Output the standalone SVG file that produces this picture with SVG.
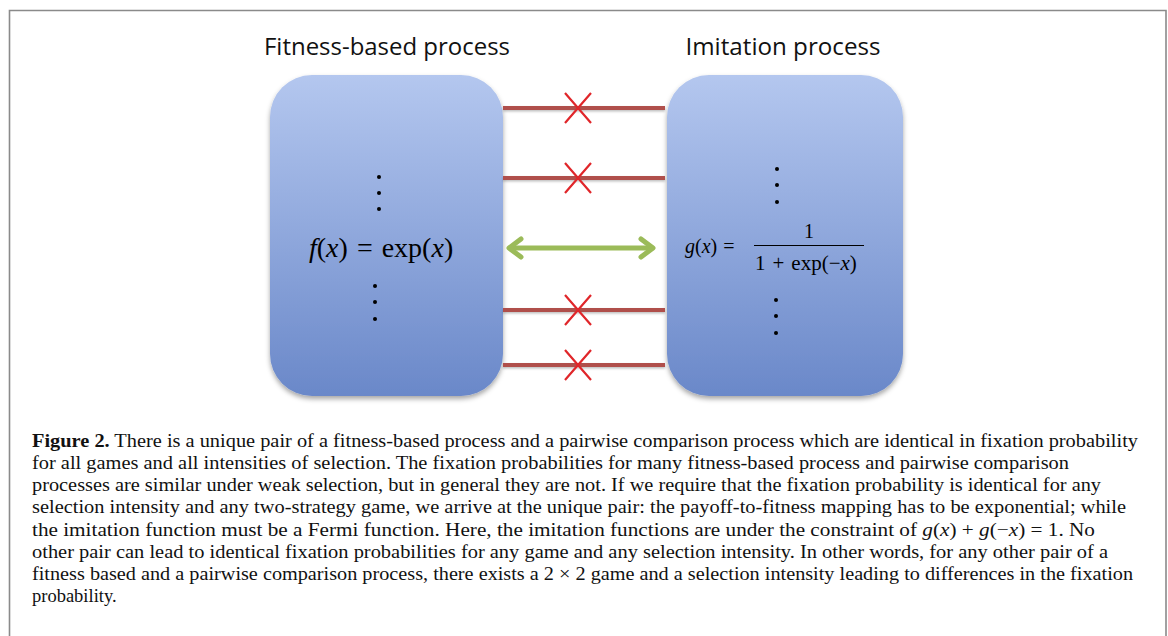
<svg xmlns="http://www.w3.org/2000/svg" width="1168" height="636" viewBox="0 0 1168 636">
<style>
.title{font-family:"Open Sans","Liberation Sans",sans-serif;font-size:23px;fill:#111}
.cap{font-family:"Liberation Serif",serif;font-size:18.5px;fill:#111}
.math{font-family:"Liberation Serif","DejaVu Serif",serif;fill:#000}
.it{font-style:italic}
.bar{stroke:#b0504c;stroke-width:4;fill:none}
.cross{stroke:#e0262a;stroke-width:2.2;fill:none}
.ok{stroke:#9bbb59;stroke-width:5;fill:none;stroke-linecap:round;stroke-linejoin:round}
.dot{fill:#000}
</style>
<defs>
<linearGradient id="g" x1="0" y1="0" x2="0" y2="1">
<stop offset="0" stop-color="#b4c7ef"/>
<stop offset="1" stop-color="#6a88c9"/>
</linearGradient>
<filter id="sh" x="-10%" y="-10%" width="120%" height="125%">
<feDropShadow dx="0" dy="3" stdDeviation="2.5" flood-color="#000" flood-opacity="0.35"/>
</filter>
<filter id="sh2" x="-5%" y="-100%" width="110%" height="300%">
<feDropShadow dx="0" dy="1.5" stdDeviation="1" flood-color="#000" flood-opacity="0.25"/>
</filter>
</defs>
<rect width="1168" height="636" fill="#fff"/>
<path d="M9.5 640 V10.5 H1166 V640" fill="none" stroke="#8a8a8a" stroke-width="1.6"/>

<g id="fitness">
<text class="title" x="387" y="55" text-anchor="middle" textLength="246" lengthAdjust="spacingAndGlyphs">Fitness-based process</text>
<rect x="270" y="75" width="233" height="321" rx="42" ry="42" fill="url(#g)" filter="url(#sh)"/>
<circle class="dot" cx="379" cy="177" r="2"/>
<circle class="dot" cx="379" cy="193" r="2"/>
<circle class="dot" cx="379" cy="209" r="2"/>
<text class="math" x="309" y="257" font-size="28"><tspan class="it">f</tspan>(<tspan class="it">x</tspan>)<tspan dx="9">=</tspan><tspan dx="9">exp(</tspan><tspan class="it">x</tspan>)</text>
<circle class="dot" cx="375" cy="286" r="2"/>
<circle class="dot" cx="375" cy="302" r="2"/>
<circle class="dot" cx="375" cy="319" r="2"/>
</g>

<g id="imitation">
<text class="title" x="783" y="55" text-anchor="middle" textLength="195" lengthAdjust="spacingAndGlyphs">Imitation process</text>
<rect x="667" y="75" width="236" height="321" rx="42" ry="42" fill="url(#g)" filter="url(#sh)"/>
<circle class="dot" cx="777" cy="169" r="2"/>
<circle class="dot" cx="777" cy="185" r="2"/>
<circle class="dot" cx="777" cy="202" r="2"/>
<text class="math" x="685" y="253" font-size="20"><tspan class="it">g</tspan>(<tspan class="it">x</tspan>)<tspan dx="6">=</tspan></text>
<text class="math" x="809" y="238" font-size="20" text-anchor="middle">1</text>
<line x1="754" y1="245.5" x2="864" y2="245.5" stroke="#000" stroke-width="1"/>
<text class="math" x="755" y="270" font-size="21">1<tspan dx="7">+</tspan><tspan dx="7">exp(−</tspan><tspan class="it">x</tspan>)</text>
<circle class="dot" cx="776" cy="300" r="2"/>
<circle class="dot" cx="776" cy="316" r="2"/>
<circle class="dot" cx="776" cy="333" r="2"/>
</g>

<g id="connectors">
<g filter="url(#sh2)">
<line class="bar" x1="503" y1="108" x2="665" y2="108"/>
<line class="bar" x1="503" y1="178" x2="665" y2="178"/>
<line class="bar" x1="503" y1="310" x2="665" y2="310"/>
<line class="bar" x1="503" y1="365" x2="665" y2="365"/>
</g>
<path class="cross" d="M565 93 L591 123 M591 93 L565 123"/>
<path class="cross" d="M565 163 L591 193 M591 163 L565 193"/>
<path class="cross" d="M565 295 L591 325 M591 295 L565 325"/>
<path class="cross" d="M565 350 L591 380 M591 350 L565 380"/>
<line class="ok" x1="510" y1="248" x2="652" y2="248"/>
<path class="ok" d="M521 239 L509 248 L521 257"/>
<path class="ok" d="M641 239 L653 248 L641 257"/>
</g>

<g id="caption">
<text class="cap" x="32" y="447" textLength="1106" lengthAdjust="spacingAndGlyphs"><tspan font-weight="bold">Figure 2.</tspan> There is a unique pair of a fitness-based process and a pairwise comparison process which are identical in fixation probability</text>
<text class="cap" x="32" y="469" textLength="1037" lengthAdjust="spacingAndGlyphs">for all games and all intensities of selection. The fixation probabilities for many fitness-based process and pairwise comparison</text>
<text class="cap" x="32" y="491" textLength="1069" lengthAdjust="spacingAndGlyphs">processes are similar under weak selection, but in general they are not. If we require that the fixation probability is identical for any</text>
<text class="cap" x="32" y="513" textLength="1094" lengthAdjust="spacingAndGlyphs">selection intensity and any two-strategy game, we arrive at the unique pair: the payoff-to-fitness mapping has to be exponential; while</text>
<text class="cap" x="32" y="536" textLength="1063" lengthAdjust="spacingAndGlyphs">the imitation function must be a Fermi function. Here, the imitation functions are under the constraint of <tspan font-style="italic">g</tspan>(<tspan font-style="italic">x</tspan>) + <tspan font-style="italic">g</tspan>(−<tspan font-style="italic">x</tspan>) = 1. No</text>
<text class="cap" x="32" y="558" textLength="1076" lengthAdjust="spacingAndGlyphs">other pair can lead to identical fixation probabilities for any game and any selection intensity. In other words, for any other pair of a</text>
<text class="cap" x="32" y="580" textLength="1101" lengthAdjust="spacingAndGlyphs">fitness based and a pairwise comparison process, there exists a 2 × 2 game and a selection intensity leading to differences in the fixation</text>
<text class="cap" x="32" y="602">probability.</text>
</g>
</svg>
